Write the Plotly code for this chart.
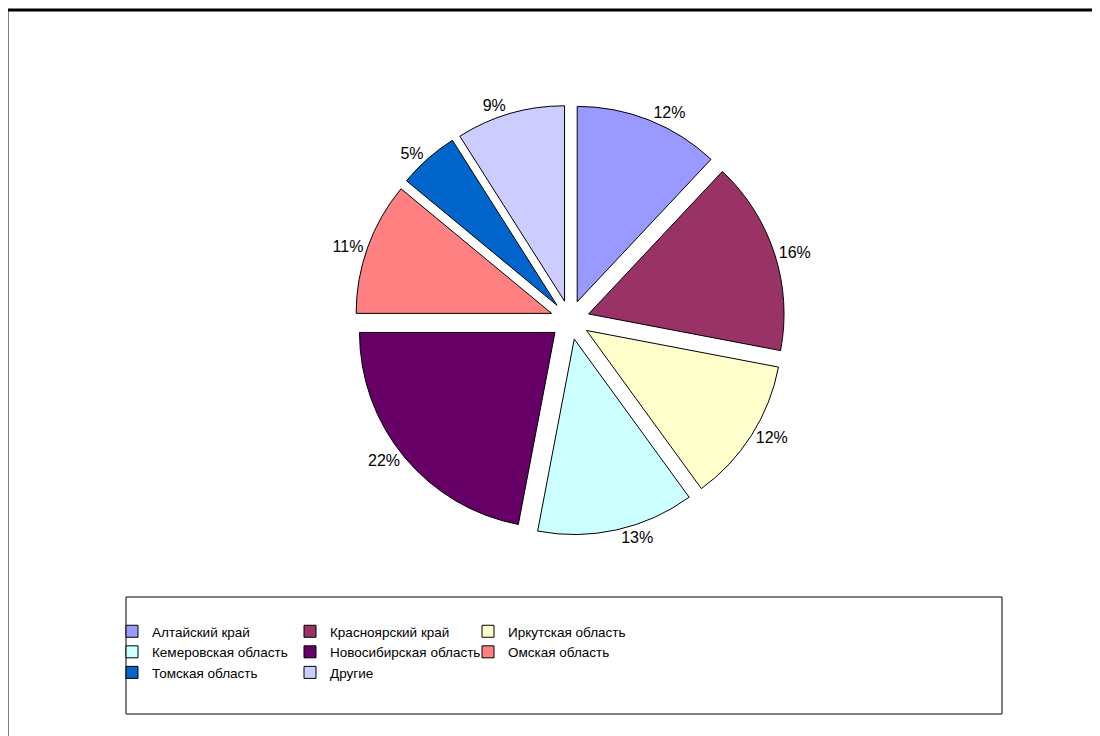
import plotly.graph_objects as go

regions = ["Алтайский край", "Красноярский край", "Иркутская область",
           "Кемеровская область", "Новосибирская область", "Омская область",
           "Томская область", "Другие"]
shares = [12, 16, 12, 13, 22, 11, 5, 9]
colors = ["#9999FF", "#993366", "#FFFFCC", "#CCFFFF", "#660066", "#FF8080",
          "#0066CC", "#CCCCFF"]

W, H = 1100, 736
OFF = 8  # page body margin of the html document
ml, mr, mt, mb = 282, 258, 10, 20
gw, gh = W - ml - mr, H - mt - mb

def fx(px):
    return (px - OFF - ml) / gw

def fy(py):
    return 1 - (py - OFF - mt) / gh

fig = go.Figure(go.Pie(
    labels=regions,
    values=shares,
    sort=False,
    direction="clockwise",
    rotation=0,
    pull=[0.1] * len(shares),
    marker=dict(colors=colors, line=dict(color="black", width=1)),
    texttemplate="%{percent:.0%}",
    textposition="outside",
    textfont=dict(size=16, color="black"),
    outsidetextfont=dict(size=16, color="black"),
    domain=dict(x=[0, 1], y=[fy(535), fy(105)]),
    hoverinfo="label+percent",
))

fig.update_layout(
    width=W, height=H,
    margin=dict(l=ml, r=mr, t=mt, b=mb, autoexpand=False),
    paper_bgcolor="white",
    plot_bgcolor="white",
    font=dict(family="Liberation Sans, Arial, sans-serif", size=16, color="black"),
    showlegend=True,
    legend=dict(
        orientation="h",
        x=fx(112), xanchor="left",
        y=fy(616), yanchor="top",
        entrywidth=133,
        traceorder="normal",
        bgcolor="rgba(0,0,0,0)",
        borderwidth=0,
        font=dict(size=13.5),
        itemclick=False, itemdoubleclick=False,
    ),
    shapes=[
        dict(type="rect", xref="paper", yref="paper",
             x0=fx(7), x1=fx(1120), y0=fy(760), y1=fy(10),
             line=dict(color="black", width=3), fillcolor="rgba(0,0,0,0)"),
        dict(type="rect", xref="paper", yref="paper",
             x0=fx(126), x1=fx(1002), y0=fy(714), y1=fy(597),
             line=dict(color="black", width=1), fillcolor="rgba(0,0,0,0)"),
    ],
)

fig.write_html("out.html")
